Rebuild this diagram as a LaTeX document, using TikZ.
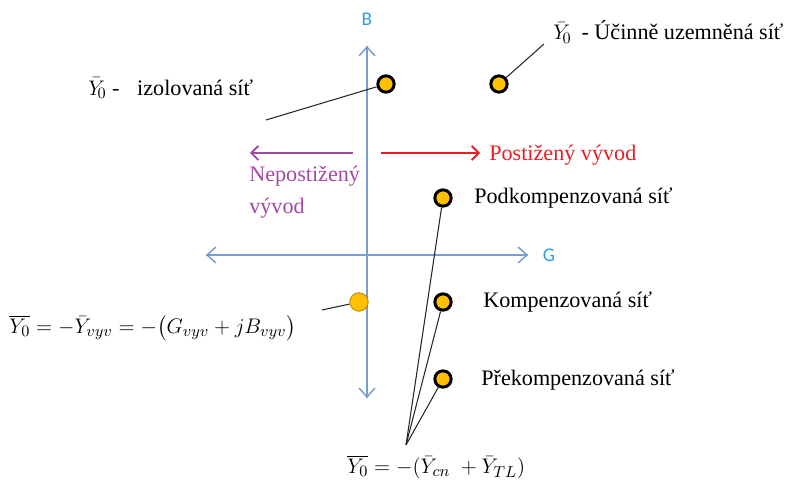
\documentclass[tikz,border=0pt]{standalone}
\usepackage{fontspec}
\usepackage{amsmath}
\setmainfont{Liberation Serif}
\newfontfamily\axisfont{Carlito}
\usepackage{tikz}
\usetikzlibrary{arrows.meta, positioning}
\definecolor{axisblue}{HTML}{7A9CCF}
\definecolor{labelblue}{HTML}{2E9BE6}
\definecolor{dotyellow}{HTML}{FFC000}
\definecolor{faultred}{HTML}{EC1C24}
\definecolor{healthypurple}{HTML}{A249A4}
\tikzset{
	axis/.style={draw=axisblue, line width=0.85pt, -{Straight Barb[length=5pt, width=9pt]}},
	axislabel/.style={font=\axisfont\fontsize{11}{13}\selectfont\color{labelblue}},
	netdot/.style={circle, draw=black, fill=dotyellow, line width=1.7pt, minimum size=9.3pt, inner sep=0pt},
	vyvdot/.style={circle, draw=dotyellow!70!black, fill=dotyellow, line width=0.5pt, minimum size=10.5pt, inner sep=0pt},
	nettext/.style={font=\fontsize{12.6}{15}\selectfont, inner sep=0pt},
	formula/.style={font=\fontsize{13.2}{15}\selectfont, inner sep=0pt},
	pointer/.style={draw=black!85, line width=0.6pt},
	feeder/.style={line width=1.1pt, -{Straight Barb[length=4pt, width=8pt]}}
}
\begin{document}
\begin{tikzpicture}[x=0.02cm, y=-0.02cm]
  \useasboundingbox (0,0) rectangle (785,486);
  % axes
  \coordinate (Btop) at (367,46);
  \coordinate (Bbot) at (367,398);
  \coordinate (Gleft) at (206,255);
  \coordinate (Gright) at (528,255);
  \draw[axis] (Bbot) -- (Btop);
  \draw[axis] (Btop) -- (Bbot);
  \draw[axis] (Gleft) -- (Gright);
  \draw[axis] (Gright) -- (Gleft);
  \node[axislabel] (B) at (367,19) {B};
  \node[axislabel] (G) at (549,255) {G};
  % points of the networks
  \node[netdot] (izol) at (386,84) {};
  \node[netdot] (ucin) at (499,84) {};
  \node[netdot] (podk) at (443,198) {};
  \node[netdot] (komp) at (443,302) {};
  \node[netdot] (prek) at (443,379) {};
  \node[vyvdot] (vyv) at (359,302) {};
  % texts
  \node[nettext, anchor=west] (izoltext) at (88,88) {$\bar{Y}_{\!0}$ -\hspace{0.8em}izolovaná síť};
  \node[nettext, anchor=west] (ucintext) at (553,32) {$\bar{Y}_{\!0}$\hspace{0.45em}- Účinně uzemněná síť};
  \node[nettext, anchor=west] (podktext) at (474,198) {Podkompenzovaná síť};
  \node[nettext, anchor=west] (komptext) at (483,302) {Kompenzovaná síť};
  \node[nettext, anchor=west] (prektext) at (481,380) {Překompenzovaná síť};
  \node[formula, anchor=west] (vyvtext) at (9,328) {$\overline{Y_0}=-\bar{Y}_{vyv}=-\bigl(G_{vyv}+jB_{vyv}\bigr)$};
  \node[formula, anchor=west] (cntext) at (347,467) {$\overline{Y_0}=-(\bar{Y}_{cn}\;+\bar{Y}_{TL})$};
  % pointers
  \coordinate (izolend) at (266,120);
  \coordinate (ucinend) at (544,44);
  \coordinate (vyvend) at (322,310);
  \coordinate (meet) at (406,445);
  \draw[pointer] (izol) -- (izolend);
  \draw[pointer] (ucin) -- (ucinend);
  \draw[pointer] (vyv) -- (vyvend);
  \draw[pointer] (meet) -- (podk);
  \draw[pointer] (meet) -- (komp);
  \draw[pointer] (meet) -- (prek);
  % feeders
  \coordinate (redstart) at (381,153);
  \coordinate (purplestart) at (353,153);
  \draw[feeder, faultred] (redstart) -- (480,153) coordinate (redend);
  \node[nettext, anchor=west, text=faultred] (redtext) at (489,155) {Postižený vývod};
  \draw[feeder, healthypurple] (purplestart) -- (250,153) coordinate (purpleend);
  \node[nettext, anchor=north west, text=healthypurple, align=left] (purpletext) at (249,166) {Nepostižený\\[3pt]vývod};
\end{tikzpicture}
\end{document}
